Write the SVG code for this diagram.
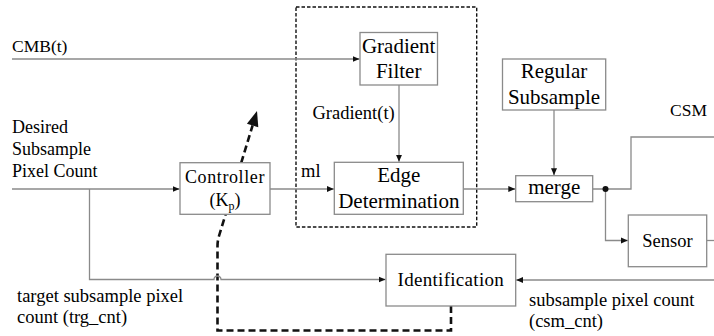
<svg xmlns="http://www.w3.org/2000/svg" width="714" height="336" viewBox="0 0 714 336">
<defs>
<marker id="ah" markerWidth="8" markerHeight="8" refX="7" refY="4" orient="auto" markerUnits="userSpaceOnUse">
<path d="M0,1 L7,4 L0,7 Z" fill="#111"/>
</marker>
</defs>
<g id="connectors" fill="none" stroke="#8a8a8a" stroke-width="1.3">
<rect x="296" y="7" width="180.7" height="220" stroke="#111" stroke-width="1.4" stroke-dasharray="3.5 2"/>
<path d="M451 306 V330.5 H217.5 V246 Q217.5 241 219 236 L252.6 125.4" stroke="#111" stroke-width="2.6" stroke-dasharray="7 4"/>
<path d="M257 111 L258.3 127.2 L246.9 123.7 Z" fill="#111" stroke="none"/>
<path d="M12 59 H359.5" marker-end="url(#ah)"/>
<path d="M12 189 H179.5" marker-end="url(#ah)"/>
<path d="M89.5 189 V279.5 H214 A3.5 3.5 0 0 1 221 279.5 H385.5" marker-end="url(#ah)"/>
<path d="M270 189 H333.8" marker-end="url(#ah)"/>
<path d="M399 85 V161.8" marker-end="url(#ah)"/>
<path d="M554 110 V175.3" marker-end="url(#ah)"/>
<path d="M463.3 189 H515.3" marker-end="url(#ah)"/>
<path d="M592.7 189 H631 V137 H714"/>
<path d="M605.5 189 V240.5 H627.8" marker-end="url(#ah)"/>
<circle cx="605.5" cy="189" r="3" fill="#111" stroke="none"/>
<path d="M706.7 240.5 H714"/>
<path d="M714 280 H516.2" marker-end="url(#ah)"/>
</g>
<g id="labels">
<text x="12" y="52" font-family="Liberation Serif" font-size="17.5">CMB(t)</text>
<text x="12" y="133" font-family="Liberation Serif" font-size="18">Desired</text>
<text x="12" y="155" font-family="Liberation Serif" font-size="18">Subsample</text>
<text x="12" y="177" font-family="Liberation Serif" font-size="18">Pixel Count</text>
<text x="312.5" y="119" font-family="Liberation Serif" font-size="18.5">Gradient(t)</text>
<text x="301" y="177" font-family="Liberation Serif" font-size="18.5">ml</text>
<text x="670" y="116" font-family="Liberation Serif" font-size="17.5">CSM</text>
<text x="17" y="302" font-family="Liberation Serif" font-size="18.5">target subsample pixel</text>
<text x="17" y="323" font-family="Liberation Serif" font-size="18.5">count (trg_cnt)</text>
<text x="529" y="306" font-family="Liberation Serif" font-size="18.5">subsample pixel count</text>
<text x="529" y="327" font-family="Liberation Serif" font-size="18.5">(csm_cnt)</text>
</g>
<g id="gradient-filter">
<rect x="360" y="32.5" width="77.5" height="52.5" fill="#fff" stroke="#8a8a8a" stroke-width="1.3"/>
<text x="398.7" y="52.7" text-anchor="middle" font-family="Liberation Serif" font-size="21">Gradient</text>
<text x="398.7" y="78.3" text-anchor="middle" font-family="Liberation Serif" font-size="21">Filter</text>
</g>
<g id="regular-subsample">
<rect x="502.5" y="59" width="103.2" height="51" fill="#fff" stroke="#8a8a8a" stroke-width="1.3"/>
<text x="554" y="77.7" text-anchor="middle" font-family="Liberation Serif" font-size="21">Regular</text>
<text x="554" y="104" text-anchor="middle" font-family="Liberation Serif" font-size="21">Subsample</text>
</g>
<g id="controller">
<rect x="180" y="162.7" width="90" height="51.6" fill="#fff" stroke="#8a8a8a" stroke-width="1.3"/>
<text x="225" y="183.3" text-anchor="middle" font-family="Liberation Serif" font-size="18" letter-spacing="0.6">Controller</text>
<text x="225" y="205.7" text-anchor="middle" font-family="Liberation Serif" font-size="18">(K<tspan font-size="12" dy="4">p</tspan><tspan dy="-4">)</tspan></text>
</g>
<g id="edge-determination">
<rect x="334.3" y="162.3" width="129" height="52" fill="#fff" stroke="#8a8a8a" stroke-width="1.3"/>
<text x="398.8" y="181.7" text-anchor="middle" font-family="Liberation Serif" font-size="21">Edge</text>
<text x="398.8" y="208.3" text-anchor="middle" font-family="Liberation Serif" font-size="21">Determination</text>
</g>
<g id="merge">
<rect x="515.7" y="175.7" width="77" height="26" fill="#fff" stroke="#8a8a8a" stroke-width="1.3"/>
<text x="554.2" y="194.3" text-anchor="middle" font-family="Liberation Serif" font-size="21">merge</text>
</g>
<g id="sensor">
<rect x="628.3" y="215" width="78.4" height="51.7" fill="#fff" stroke="#8a8a8a" stroke-width="1.3"/>
<text x="667.5" y="247.3" text-anchor="middle" font-family="Liberation Serif" font-size="18.5">Sensor</text>
</g>
<g id="identification">
<rect x="386" y="254.3" width="129.7" height="51.7" fill="#fff" stroke="#8a8a8a" stroke-width="1.3"/>
<text x="450.8" y="285.7" text-anchor="middle" font-family="Liberation Serif" font-size="19" letter-spacing="0.3">Identification</text>
</g>
</svg>
